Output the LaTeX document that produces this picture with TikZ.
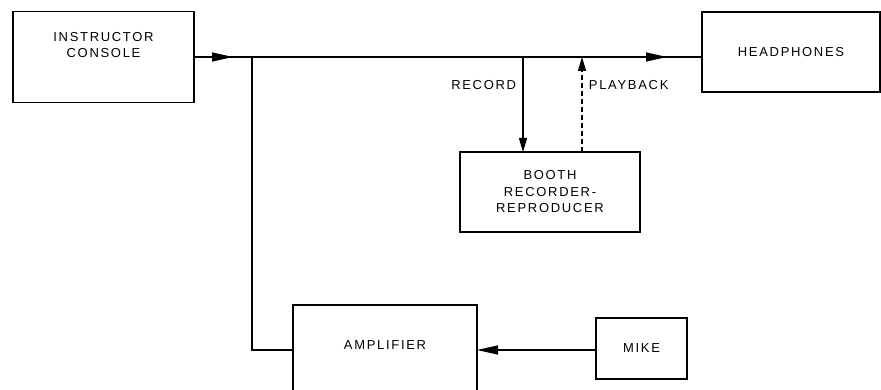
\documentclass[tikz,border=0pt]{standalone}
\usepackage{fontspec}
\setmainfont[LetterSpace=13]{Liberation Sans}
\usetikzlibrary{arrows.meta,positioning}

\begin{document}
\begin{tikzpicture}[
  x=1pt, y=-1pt,
  lbl/.style={font=\fontsize{13}{16.5}\selectfont, align=center},
  box/.style={draw, line width=1.3pt, inner sep=0pt, outer sep=0pt, lbl},
  wire/.style={line width=1.2pt},
  tip/.style={-{Triangle[length=21pt, width=9pt]}},
  shorttip/.style={-{Triangle[length=14pt, width=8pt]}},
]
  \useasboundingbox (0,0) rectangle (881,390);

  % blocks
  \node[box, minimum width=181pt, minimum height=91pt,
    label={[lbl, yshift=12pt]center:INSTRUCTOR\\CONSOLE}] (console) at (103.5,57) {};
  \node[box, minimum width=178pt, minimum height=80pt] (head) at (791,52) {HEADPHONES};
  \node[box, minimum width=180pt, minimum height=80pt] (booth) at (550,192)
    {BOOTH\\RECORDER-\\REPRODUCER};
  \node[box, minimum width=184pt, minimum height=90pt,
    label={[lbl, yshift=5pt]center:AMPLIFIER}] (amp) at (385,350) {};
  \node[box, minimum width=91pt, minimum height=61pt] (mike) at (641.5,348.5) {MIKE};

  % bus points
  \coordinate (a1) at (233,57);
  \coordinate (j) at (252,57);
  \coordinate (rec) at (523,57);
  \coordinate (play) at (582,57);
  \coordinate (a2) at (667,57);

  % connectors
  \draw[wire] (console.east) -- (head.west |- a2);
  \draw[wire, tip] (console.east) -- (a1);
  \draw[wire, tip] (play) -- (a2);
  \draw[wire] (j) |- (amp.west);
  \draw[wire, shorttip] (rec) -- node[lbl, left=3pt, pos=0.3] {RECORD} (rec |- booth.north);
  \draw[wire, shorttip, dash pattern=on 5pt off 3pt] (play |- booth.north)
    -- node[lbl, right=3pt, pos=0.7] {PLAYBACK} (play);
  \draw[wire, tip] (mike.west |- amp.east) -- (amp.east);
\end{tikzpicture}
\end{document}
